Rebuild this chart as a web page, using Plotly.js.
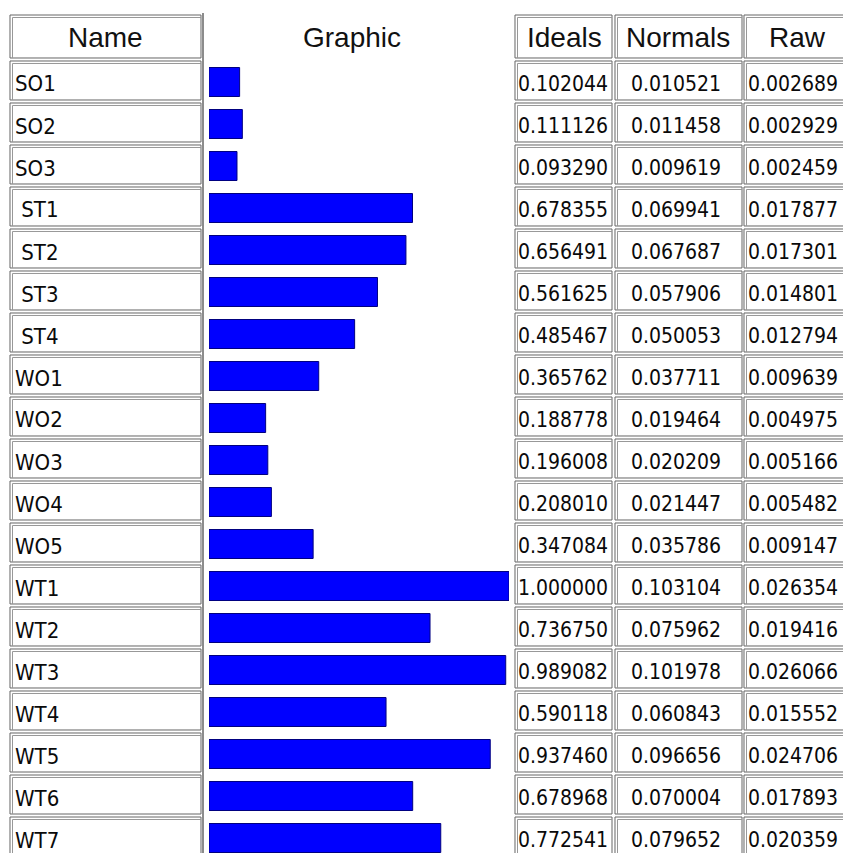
<!DOCTYPE html>
<html>
<head>
<meta charset="utf-8">
<script src="https://cdn.plot.ly/plotly-3.0.1.min.js"></script>
<style>html,body{margin:0;padding:0;background:#fff;}#chart{width:843px;height:853px;}</style>
</head>
<body>
<div id="chart"></div>
<script>
// ---- data ----
var names   = ["SO1","SO2","SO3","ST1","ST2","ST3","ST4","WO1","WO2","WO3","WO4","WO5","WT1","WT2","WT3","WT4","WT5","WT6","WT7"];
var ideals  = [0.102044,0.111126,0.093290,0.678355,0.656491,0.561625,0.485467,0.365762,0.188778,0.196008,0.208010,0.347084,1.000000,0.736750,0.989082,0.590118,0.937460,0.678968,0.772541];
var normals = [0.010521,0.011458,0.009619,0.069941,0.067687,0.057906,0.050053,0.037711,0.019464,0.020209,0.021447,0.035786,0.103104,0.075962,0.101978,0.060843,0.096656,0.070004,0.079652];
var raw     = [0.002689,0.002929,0.002459,0.017877,0.017301,0.014801,0.012794,0.009639,0.004975,0.005166,0.005482,0.009147,0.026354,0.019416,0.026066,0.015552,0.024706,0.017893,0.020359];
var headers = ["Name","Graphic","Ideals","Normals","Raw"];

// ---- layout helpers ----
var W = 843, H = 853, PITCH = 42, C0 = 82;
function px(p){ return p / W; }
function pyp(p){ return 1 - p / H; }        // pixel -> paper y
function py(p){ return (p - C0) / PITCH; }  // pixel -> category-axis units
function f(v){ return v.toFixed(6); }

var cols = [[10,201],[515,612],[615,742],[744,852]];
var dark = '#666666', light = '#989898';

// rows: header + body rows (pixel top/bottom)
var rowsPx = [[15,58]];
for (var i = 0; i < names.length; i++) rowsPx.push([C0 - 21 + PITCH * i, C0 + 18 + PITCH * i]);

var shapes = [];
cols.forEach(function(c){
  var dPath = '', lPath = '';
  rowsPx.forEach(function(rw){
    var x0 = f(px(c[0])), x1 = f(px(c[1])), y0 = f(pyp(rw[0])), y1 = f(pyp(rw[1]));
    dPath += 'M' + x0 + ',' + y0 + 'L' + x1 + ',' + y0 + 'L' + x1 + ',' + y1 + 'L' + x0 + ',' + y1 + 'Z';
    var xi = f(px(c[0] + 2.5)), yi = f(pyp(rw[0] + 2.5));
    lPath += 'M' + xi + ',' + y1 + 'L' + xi + ',' + yi + 'L' + x1 + ',' + yi;
  });
  shapes.push({type:'path', xref:'paper', yref:'paper', path:dPath, line:{color:dark, width:1}, fillcolor:'rgba(0,0,0,0)'});
  shapes.push({type:'path', xref:'paper', yref:'paper', path:lPath, line:{color:light, width:1}, fillcolor:'rgba(0,0,0,0)'});
});
// graphic column left border
shapes.push({type:'line', xref:'paper', yref:'paper', x0:px(203), x1:px(203), y0:pyp(13), y1:pyp(H + 5),
             line:{color:dark, width:1.5}});

var annotations = [];
var hdrFont = {family:'Liberation Sans, Arial, sans-serif', size:28, color:'#111'};
var hdrX = [105.5, 352, 564, 678, 797];
headers.forEach(function(h, j){
  annotations.push({text:h, xref:'paper', yref:'paper', x:px(hdrX[j]), y:pyp(37), xanchor:'center', yanchor:'middle',
                    showarrow:false, font:hdrFont});
});
var nameFont = {family:'DejaVu Sans Condensed, DejaVu Sans, sans-serif', size:22, color:'#0a0a0a'};
var numFont  = {family:'DejaVu Sans Condensed, DejaVu Sans, sans-serif', size:21, color:'#0a0a0a'};
for (var r = 0; r < names.length; r++) {
  var yc = pyp(C0 + 2 + PITCH * r);
  var label = (names[r].indexOf('ST') === 0 ? '\u00a0' : '') + names[r];
  annotations.push({text:label, xref:'paper', yref:'paper', x:px(13), y:yc, xanchor:'left', yanchor:'middle', showarrow:false, font:nameFont});
  annotations.push({text:ideals[r].toFixed(6), xref:'paper', yref:'paper', x:px(516), y:yc, xanchor:'left', yanchor:'middle', showarrow:false, font:numFont});
  annotations.push({text:normals[r].toFixed(6), xref:'paper', yref:'paper', x:px(676), y:yc, xanchor:'center', yanchor:'middle', showarrow:false, font:numFont});
  annotations.push({text:raw[r].toFixed(6), xref:'paper', yref:'paper', x:px(746), y:yc, xanchor:'left', yanchor:'middle', showarrow:false, font:numFont});
}

var trace = {
  type:'bar', orientation:'h', x:ideals, y:names,
  marker:{color:'#0000ff', line:{color:'#000080', width:1}},
  width: 29 / PITCH, hoverinfo:'skip', cliponaxis:false
};

var layout = {
  width:W, height:H, margin:{l:0, r:0, t:0, b:0},
  paper_bgcolor:'#ffffff', plot_bgcolor:'rgba(0,0,0,0)',
  showlegend:false,
  xaxis:{domain:[px(209), px(509)], range:[0,1], visible:false, fixedrange:true},
  yaxis:{type:'category', categoryarray:names, categoryorder:'array',
         range:[py(H), py(0)], domain:[0,1], visible:false, fixedrange:true},
  shapes:shapes, annotations:annotations
};

Plotly.newPlot('chart', [trace], layout, {displayModeBar:false, staticPlot:true});
</script>
</body>
</html>
